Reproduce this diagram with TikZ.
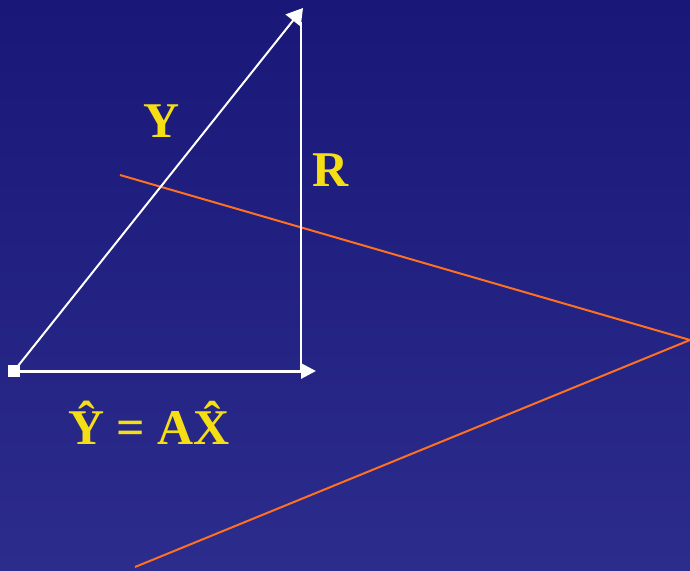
\documentclass[tikz,border=0pt]{standalone}
\usepackage{fontspec}
\setmainfont{Liberation Serif}
\usetikzlibrary{arrows.meta}
\definecolor{bgtop}{RGB}{25,24,120}
\definecolor{bgbot}{RGB}{44,44,140}
\definecolor{lbl}{RGB}{245,222,20}
\definecolor{orng}{RGB}{255,112,32}
\tikzset{
  vec/.style={white, line width=2pt},
  vecarrow/.style={vec, -{Triangle[length=15pt,width=15pt]}},
  lbltext/.style={text=lbl, font=\fontsize{50}{50}\selectfont\bfseries, inner sep=0pt},
  orangeline/.style={orng, line width=2pt}
}
\begin{document}
\begin{tikzpicture}[x=1pt,y=-1pt]
\shade[top color=bgtop, bottom color=bgbot] (0,0) rectangle (690,570);
\useasboundingbox (0,0) rectangle (690,570);
\coordinate (O) at (14,371);
\coordinate (Ytip) at (303,8);
\coordinate (Xtip) at (316,371);
\coordinate (Rbase) at (301,371);
\coordinate (Rtop) at (301,22);
\coordinate (P1) at (120,175);
\coordinate (V) at (690,340);
\coordinate (P2) at (135,567);
% orange lines
\draw[orangeline] (P1) -- (V) -- (P2);
% vectors
\draw[vec] (Rbase) -- (Rtop);
\draw[vec, -{Triangle[length=16pt,width=19pt]}] (O) -- (Ytip);
\draw[vecarrow, line width=3pt] (O) -- (Xtip);
\fill[white] (O) ++(-6,-6) rectangle ++(12,12);
% labels
\node[lbltext] (ly) at (162,121) {Y};
\node[lbltext] (lr) at (331,170) {R};
\node[lbltext] (leq) at (149,423) {\^{Y} = A\^{X}};
\end{tikzpicture}
\end{document}
